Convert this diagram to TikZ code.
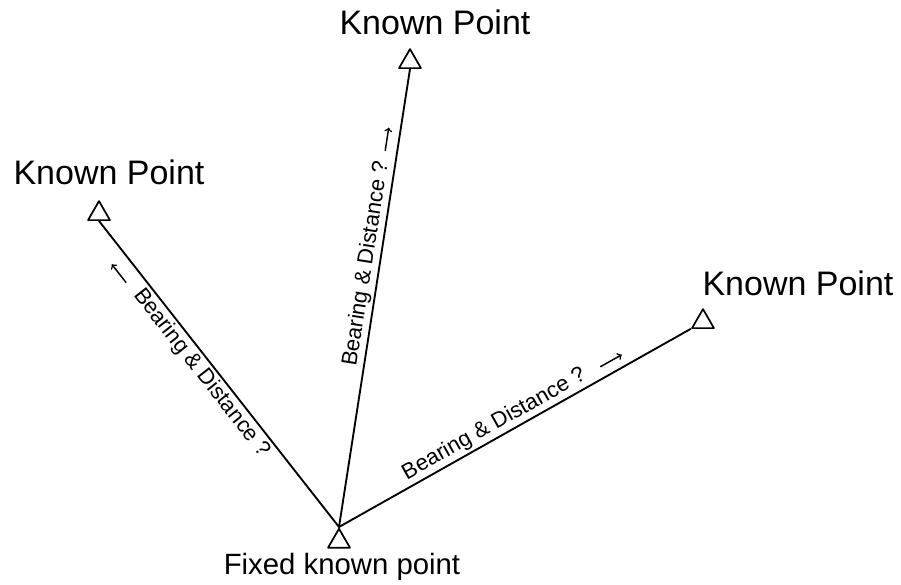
\documentclass[tikz,border=0pt]{standalone}
\usepackage{fontspec}
\setmainfont{Liberation Sans}
\usepackage{tikz}
\usetikzlibrary{arrows}
\usetikzlibrary{shapes.geometric}
\usetikzlibrary{calc}

\tikzset{station/.style={draw,regular polygon,regular polygon sides=3,minimum size=19pt,inner sep=0pt,line width=1.3pt},
  leg/.style={line width=1.4pt},
  hint/.style={->,line width=1.1pt},
  ptlabel/.style={font=\fontsize{25.5}{30}\selectfont},
  fixlabel/.style={font=\fontsize{22}{26}\selectfont},
  legtext/.style={font=\fontsize{16.5}{20}\selectfont,inner sep=1.5pt}}

\begin{document}
\begin{tikzpicture}[line cap=round,line join=round,>=to,x=0.75pt,y=0.75pt]
\useasboundingbox (0,0) rectangle (901,585);
\node[station,anchor=corner 1] (fix) at (339,58) {};
\node[station,anchor=side 2] (kpt) at (410,516) {};
\node[station,anchor=side 2] (kpl) at (99,364) {};
\node[station,anchor=side 2] (kpr) at (703,256) {};
\draw (435,550) node[anchor=base,ptlabel] (lblt) {Known Point};
\draw (109,400) node[anchor=base,ptlabel] (lbll) {Known Point};
\draw (798,289) node[anchor=base,ptlabel] (lblr) {Known Point};
\draw (342,10) node[anchor=base,fixlabel] (lblf) {Fixed known point};
\draw [leg] (fix.corner 1) -- (kpt.side 2) node[legtext,sloped,above,pos=0.57] {Bearing \& Distance ?};
\draw [leg] (kpl.side 2) -- (fix.corner 1) node[legtext,sloped,below,pos=0.47] {Bearing \& Distance ?};
\draw [leg] (fix.corner 1) -- (kpr.corner 2) node[legtext,sloped,above,pos=0.46] {Bearing \& Distance ?};
% direction hints
\draw [hint] ($(fix.corner 1)!0.818!(kpt.side 2)!9pt!90:(kpt.side 2)$) -- ($(fix.corner 1)!0.868!(kpt.side 2)!9pt!90:(kpt.side 2)$);
\draw [hint] ($(kpl.side 2)!0.167!(fix.corner 1)!12.5pt!-90:(fix.corner 1)$) -- ($(kpl.side 2)!0.108!(fix.corner 1)!12.5pt!-90:(fix.corner 1)$);
\draw [hint] ($(fix.corner 1)!0.76!(kpr.corner 2)!8.5pt!90:(kpr.corner 2)$) -- ($(fix.corner 1)!0.82!(kpr.corner 2)!8.5pt!90:(kpr.corner 2)$);
\end{tikzpicture}
\end{document}
